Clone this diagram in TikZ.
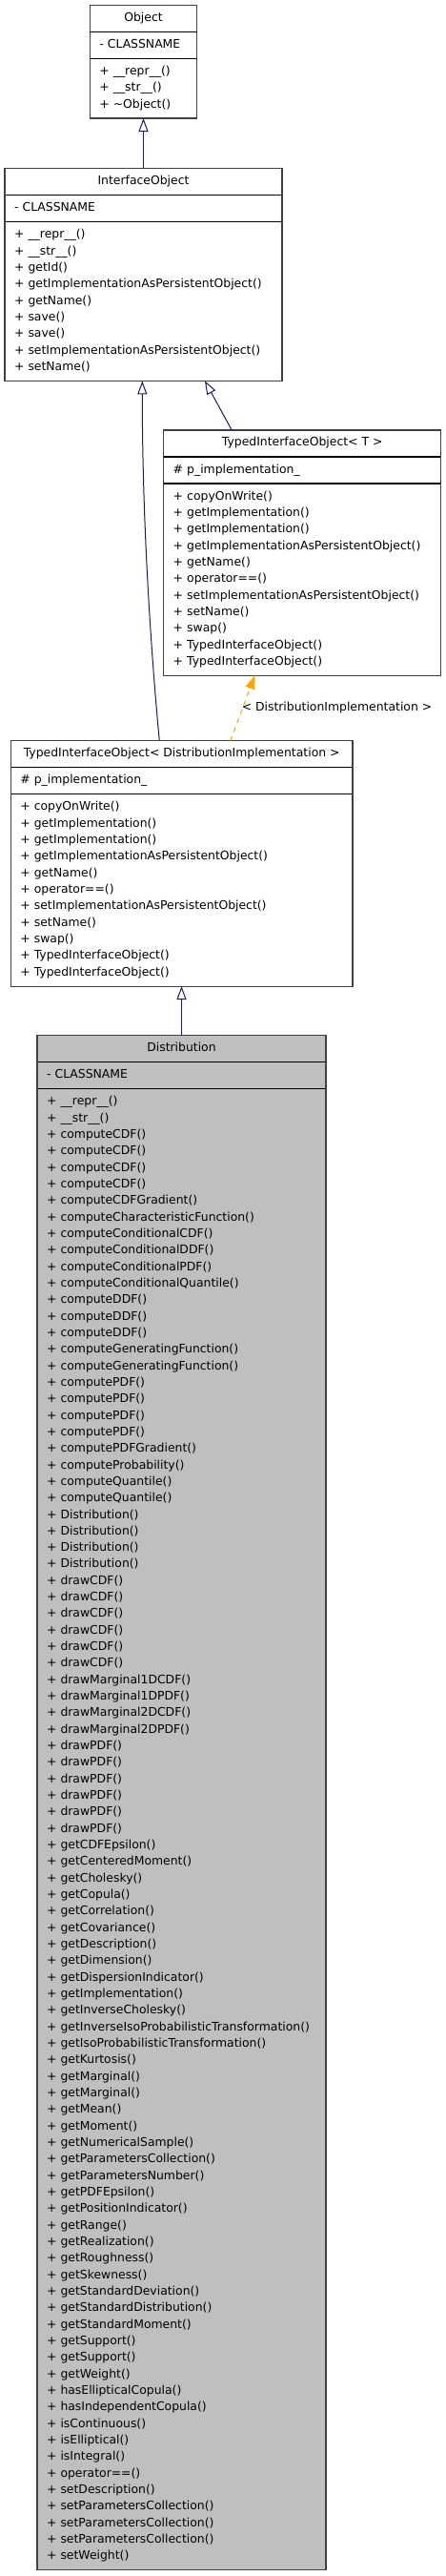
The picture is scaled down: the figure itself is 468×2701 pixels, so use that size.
\documentclass[tikz,border=0pt]{standalone}
\usepackage{fontspec}
\setmainfont{DejaVu Sans}
\usetikzlibrary{
    arrows.meta,
    calc,
    positioning,
}
\definecolor{MidnightBlue}{RGB}{25,25,112}
\definecolor{TplOrange}{RGB}{255,165,0}
\definecolor{BoxBorder}{RGB}{64,64,64}
\definecolor{ClassFill}{RGB}{191,191,191}
\newcommand{\mstrut}{\rule[-5.7pt]{0pt}{17.33pt}}
\tikzstyle{umlfont}=[font=\fontsize{12.4}{17.33}\selectfont]
\tikzstyle{umltitle}=[draw=black,line width=1.2pt,umlfont,outer sep=0pt,inner xsep=0pt,inner ysep=5.35pt,anchor=north west,execute at begin node=\mstrut]
\tikzstyle{umlpart}=[draw=black,line width=1.2pt,umlfont,outer sep=0pt,inner xsep=10pt,inner ysep=5.35pt,align=left,anchor=north,execute at begin node=\mstrut,execute at end node=\mstrut]
\tikzstyle{umlborder}=[draw=BoxBorder,line width=1.2pt]
\tikzstyle{inherit}=[draw=MidnightBlue,line width=1pt,-{Triangle[open,length=14pt,width=10pt]}]
\tikzstyle{template}=[draw=TplOrange,line width=1pt,dash pattern=on 5pt off 5pt,-{Triangle[length=14pt,width=10pt]}]
\newcommand{\UMLClass}[7][]{%
    \pgfmathsetmacro{\umltw}{#4-20}%
    \node[umltitle,minimum width=#4pt,#1] (#2) at (#3) {#5};
    \node[umlpart,text width=\umltw pt,#1] (#2 attr) at (#2.south) {#6};
    \node[umlpart,text width=\umltw pt,#1] (#2 ops) at (#2 attr.south) {#7};
    \draw[umlborder] (#2.north west) rectangle (#2 ops.south east);
}

\begin{document}
\begin{tikzpicture}[x=1pt,y=1pt]
    \path[use as bounding box,fill=white] (0,0) rectangle (468,-2701);

    % Classes
    \UMLClass{Object}{94.3,-5.3}{112.4}{Object}{- CLASSNAME}{%
        + \_\_repr\_\_()\\
        + \_\_str\_\_()\\
        + \textasciitilde Object()}
    \UMLClass{InterfaceObject}{5,-176.7}{291}{InterfaceObject}{- CLASSNAME}{%
        + \_\_repr\_\_()\\
        + \_\_str\_\_()\\
        + getId()\\
        + getImplementationAsPersistentObject()\\
        + getName()\\
        + save()\\
        + save()\\
        + setImplementationAsPersistentObject()\\
        + setName()}
    \UMLClass{TypedIOT}{171.7,-451}{291}{TypedInterfaceObject< T >}{\# p\_implementation\_}{%
        + copyOnWrite()\\
        + getImplementation()\\
        + getImplementation()\\
        + getImplementationAsPersistentObject()\\
        + getName()\\
        + operator==()\\
        + setImplementationAsPersistentObject()\\
        + setName()\\
        + swap()\\
        + TypedInterfaceObject()\\
        + TypedInterfaceObject()}
    \UMLClass{TypedIODist}{11.3,-776.7}{358.7}{TypedInterfaceObject< DistributionImplementation >}{\# p\_implementation\_}{%
        + copyOnWrite()\\
        + getImplementation()\\
        + getImplementation()\\
        + getImplementationAsPersistentObject()\\
        + getName()\\
        + operator==()\\
        + setImplementationAsPersistentObject()\\
        + setName()\\
        + swap()\\
        + TypedInterfaceObject()\\
        + TypedInterfaceObject()}
    \UMLClass[fill=ClassFill]{Distribution}{39,-1085.7}{303}{Distribution}{- CLASSNAME}{%
        + \_\_repr\_\_()\\
        + \_\_str\_\_()\\
        + computeCDF()\\
        + computeCDF()\\
        + computeCDF()\\
        + computeCDF()\\
        + computeCDFGradient()\\
        + computeCharacteristicFunction()\\
        + computeConditionalCDF()\\
        + computeConditionalDDF()\\
        + computeConditionalPDF()\\
        + computeConditionalQuantile()\\
        + computeDDF()\\
        + computeDDF()\\
        + computeDDF()\\
        + computeGeneratingFunction()\\
        + computeGeneratingFunction()\\
        + computePDF()\\
        + computePDF()\\
        + computePDF()\\
        + computePDF()\\
        + computePDFGradient()\\
        + computeProbability()\\
        + computeQuantile()\\
        + computeQuantile()\\
        + Distribution()\\
        + Distribution()\\
        + Distribution()\\
        + Distribution()\\
        + drawCDF()\\
        + drawCDF()\\
        + drawCDF()\\
        + drawCDF()\\
        + drawCDF()\\
        + drawCDF()\\
        + drawMarginal1DCDF()\\
        + drawMarginal1DPDF()\\
        + drawMarginal2DCDF()\\
        + drawMarginal2DPDF()\\
        + drawPDF()\\
        + drawPDF()\\
        + drawPDF()\\
        + drawPDF()\\
        + drawPDF()\\
        + drawPDF()\\
        + getCDFEpsilon()\\
        + getCenteredMoment()\\
        + getCholesky()\\
        + getCopula()\\
        + getCorrelation()\\
        + getCovariance()\\
        + getDescription()\\
        + getDimension()\\
        + getDispersionIndicator()\\
        + getImplementation()\\
        + getInverseCholesky()\\
        + getInverseIsoProbabilisticTransformation()\\
        + getIsoProbabilisticTransformation()\\
        + getKurtosis()\\
        + getMarginal()\\
        + getMarginal()\\
        + getMean()\\
        + getMoment()\\
        + getNumericalSample()\\
        + getParametersCollection()\\
        + getParametersNumber()\\
        + getPDFEpsilon()\\
        + getPositionIndicator()\\
        + getRange()\\
        + getRealization()\\
        + getRoughness()\\
        + getSkewness()\\
        + getStandardDeviation()\\
        + getStandardDistribution()\\
        + getStandardMoment()\\
        + getSupport()\\
        + getSupport()\\
        + getWeight()\\
        + hasEllipticalCopula()\\
        + hasIndependentCopula()\\
        + isContinuous()\\
        + isElliptical()\\
        + isIntegral()\\
        + operator==()\\
        + setDescription()\\
        + setParametersCollection()\\
        + setParametersCollection()\\
        + setParametersCollection()\\
        + setWeight()}

    % Inheritance
    \draw[inherit] (InterfaceObject.north) -- (Object ops.south);
    \draw[inherit] ([xshift=71.5pt]TypedIOT.north west) -- ([xshift=210pt]InterfaceObject ops.south west);
    \draw[inherit] ([xshift=156pt]TypedIODist.north west) .. controls +(-7.3,76.7) and +(0,-161) .. ([xshift=144.3pt]InterfaceObject ops.south west);
    \draw[template] ([xshift=230.4pt]TypedIODist.north west) -- node[pos=0.51,anchor=west,inner sep=0pt,xshift=-1.5pt,umlfont] (tplarg) {< DistributionImplementation >} ([xshift=95.6pt]TypedIOT ops.south west);
    \draw[inherit] (Distribution.north) -- (Distribution.north |- TypedIODist ops.south);
\end{tikzpicture}
\end{document}
